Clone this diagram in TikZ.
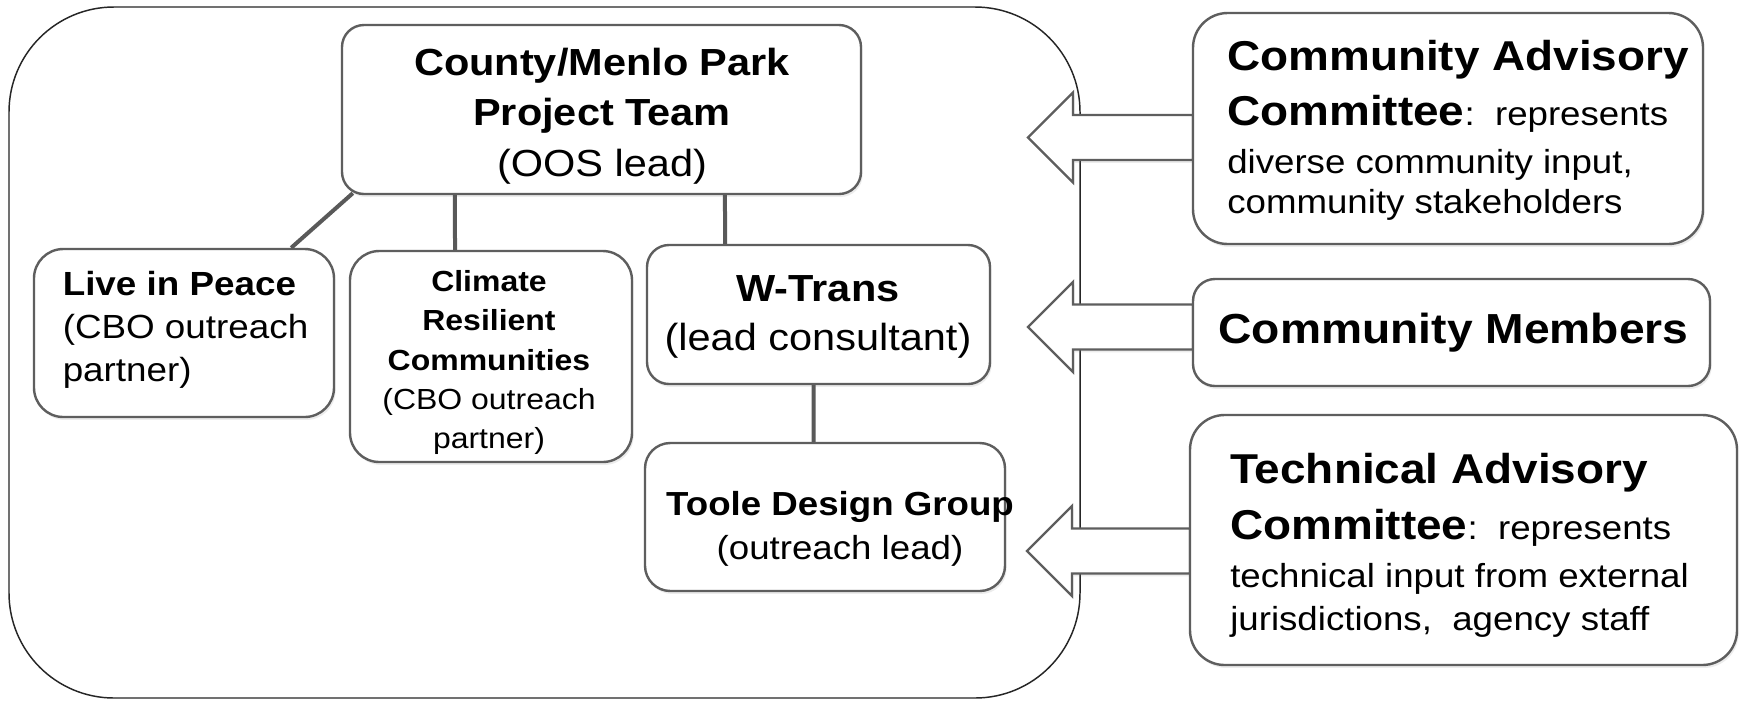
\documentclass[tikz,border=0pt]{standalone}
\usepackage{fontspec}
\setmainfont{Liberation Sans}[FakeStretch=1.1]
\usetikzlibrary{shadows}
\definecolor{edge}{HTML}{5E5E5E}
\definecolor{conn}{HTML}{595959}
\newcommand\tblock[2]{\vtop{\hsize=#1\parindent=0pt\parskip=0pt\lineskiplimit=-\maxdimen\lineskip=0pt\relax#2}}
\begin{document}
\begin{tikzpicture}[x=0.75pt,y=-0.75pt,
  box/.style={draw=edge, line width=1.8pt, fill=white, inner sep=0pt,
    drop shadow={opacity=0.15, shadow xshift=1.2pt, shadow yshift=-2.2pt}},
  txt/.style={inner sep=0pt, text=black},
  link/.style={draw=conn, line width=3pt},
  barrow/.style={draw=edge, line width=1.8pt, fill=white, line join=miter,
    drop shadow={opacity=0.15, shadow xshift=1.2pt, shadow yshift=-2.2pt}}
]
\useasboundingbox (0,0) rectangle (1744,701);
\fill[white] (0,0) rectangle (1744,701);

% outer container
\node[draw=black!85, line width=1.1pt, fill=white, rounded corners=78.75pt,
  minimum width=803.25pt, minimum height=518.25pt, inner sep=0pt] (outer) at (544.5,352.5) {};

% inner boxes
\node[box, rounded corners=16.5pt, minimum width=389.25pt, minimum height=126.75pt] (cty) at (601.5,109.5) {};
\node[box, rounded corners=22pt, minimum width=225pt, minimum height=126pt] (lip) at (184,333) {};
\node[box, rounded corners=22pt, minimum width=211.5pt, minimum height=158.25pt] (clim) at (491,356.5) {};
\node[box, rounded corners=16.5pt, minimum width=257.25pt, minimum height=104.25pt] (wt) at (818.5,314.5) {};
\node[box, rounded corners=19pt, minimum width=270pt, minimum height=111pt] (tdg) at (825,517) {};

% connectors
\draw[link] ([xshift=9pt,yshift=1.5pt]cty.south west) -- ([xshift=-33pt]lip.north east);
\draw[link] ([xshift=-109.9pt]cty.south) -- ([xshift=-27pt]clim.north);
\draw[link] ([xshift=92.6pt]cty.south) -- ([xshift=-70.1pt]wt.north);
\draw[link] ([xshift=-3.75pt]wt.south) -- ([xshift=-8.6pt]tdg.north);

% texts of inner boxes
\node[txt, anchor=base] (ctyT) at (602,75) {\tblock{450pt}{\centering\fontsize{28.3}{38}\selectfont\bfseries County/Menlo Park\par Project Team\par\mdseries (OOS lead)\par}};
\node[txt, anchor=base west] (lipT) at (62.5,295) {\tblock{300pt}{\raggedright\fontsize{25.1}{32.6}\selectfont\textbf{Live in Peace}\par (CBO outreach\par partner)\par}};
\node[txt, anchor=base] (climT) at (489,291.7) {\tblock{250pt}{\centering\fontsize{21.8}{29.4}\selectfont\bfseries Climate\par Resilient\par Communities\par\mdseries (CBO outreach\par partner)\par}};
\node[txt, anchor=base] (wtT) at (818,301) {\tblock{300pt}{\centering\fontsize{28.3}{36.75}\selectfont\textbf{W-Trans}\par (lead consultant)\par}};
\node[txt, anchor=base] (tdgT) at (840,515) {\tblock{300pt}{\centering\fontsize{25}{33}\selectfont\textbf{Toole Design Group}\par (outreach lead)\par}};

% block arrows
\coordinate (t1) at (1028,137.5);
\coordinate (t2) at (1028,327);
\coordinate (t3) at (1027,551);
\draw[barrow] (t1) -- ++(45,-45) -- ++(0,22.5) -- ++(120,0) -- ++(0,45) -- ++(-120,0) -- ++(0,22.5) -- cycle;
\draw[barrow] (t2) -- ++(45,-45) -- ++(0,22.5) -- ++(120,0) -- ++(0,45) -- ++(-120,0) -- ++(0,22.5) -- cycle;
\draw[barrow] (t3) -- ++(45,-45) -- ++(0,22.5) -- ++(118,0) -- ++(0,45) -- ++(-118,0) -- ++(0,22.5) -- cycle;

% right boxes
\node[box, rounded corners=26pt, minimum width=382.5pt, minimum height=173.25pt] (cac) at (1448,128.5) {};
\node[box, rounded corners=16.5pt, minimum width=387.75pt, minimum height=80.25pt] (cm) at (1451.5,332.5) {};
\node[box, rounded corners=26pt, minimum width=410.25pt, minimum height=187.5pt] (tac) at (1463.5,540) {};

\node[txt, anchor=base west] (cacT) at (1227,70) {\tblock{450pt}{\raggedright\fontsize{31.3}{41.25}\selectfont\bfseries Community Advisory\par Committee\mdseries\fontsize{25}{41.25}\selectfont:\ \ represents\par\baselineskip=36pt diverse community input,\par\baselineskip=30pt community stakeholders\par}};
\node[txt, anchor=base] (cmT) at (1453.5,343) {\fontsize{31.5}{38}\selectfont\bfseries Community Members};
\node[txt, anchor=base west] (tacT) at (1230,483) {\tblock{450pt}{\raggedright\fontsize{31.3}{42}\selectfont\bfseries Technical Advisory\par Committee\mdseries\fontsize{25}{42}\selectfont:\ \ represents\par\baselineskip=36pt technical input from external\par\baselineskip=32.25pt jurisdictions,\ \ agency staff\par}};
\end{tikzpicture}
\end{document}
